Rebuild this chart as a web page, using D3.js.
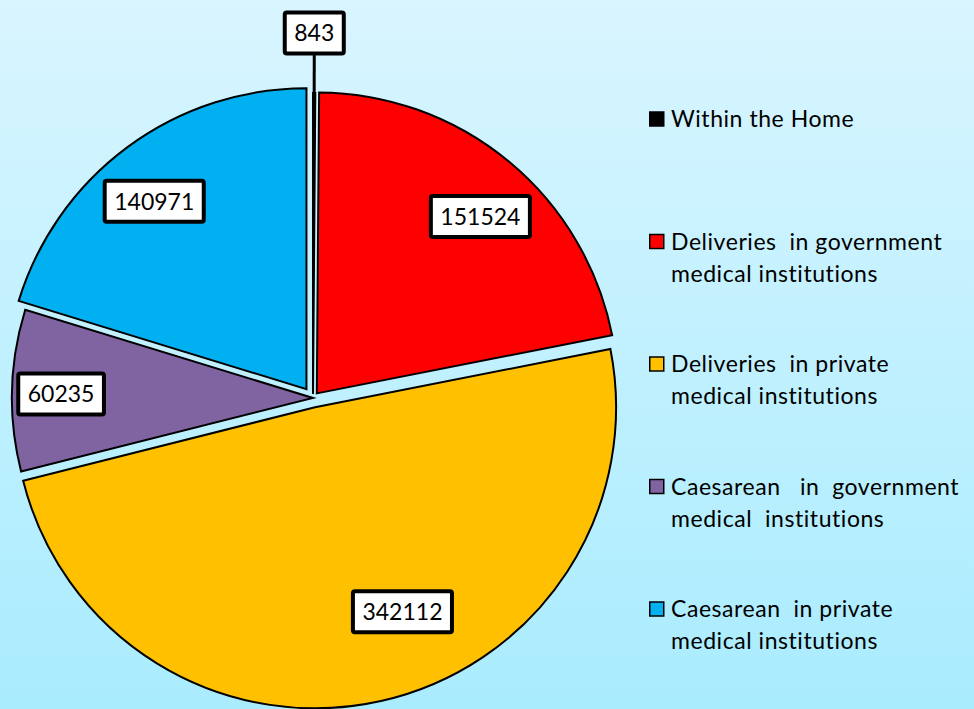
<!DOCTYPE html>
<html><head><meta charset="utf-8">
<script src="https://cdn.jsdelivr.net/npm/d3@7"></script>
<style>body{margin:0;} svg{display:block;} text{font-family:Lato, "Open Sans", sans-serif;font-variant-ligatures:none;}</style>
</head><body><svg id="c" width="974" height="709"></svg>
<script>
const categories = ["Within the Home","Deliveries in government medical institutions","Deliveries in private medical institutions","Caesarean in government medical institutions","Caesarean in private medical institutions"];
const legendLines = [["Within the Home"],["Deliveries  in government","medical institutions"],["Deliveries  in private","medical institutions"],["Caesarean   in  government","medical  institutions"],["Caesarean  in private","medical institutions"]];
const values = [843,151524,342112,60235,140971];
const colors = ["#000000","#ff0000","#ffc000","#8064a2","#00b0f0"];
const explode = [4,6,9.5,0,11];
const labelAngle = [0.2, 42.7, 157.3, 270.9, 321.1];
const labelDist = [1.213, 0.82, 0.77, 0.837, 0.84];

const W=974,H=709,cx=313,cy=398,R=301;
const svg=d3.select("#c");
const defs=svg.append("defs");
const g=defs.append("linearGradient").attr("id","bg").attr("x1",0).attr("y1",0).attr("x2",0).attr("y2",1);
g.append("stop").attr("offset","0%").attr("stop-color","#d9f5ff");
g.append("stop").attr("offset","100%").attr("stop-color","#a9ecfe");
svg.append("rect").attr("width",W).attr("height",H).attr("fill","url(#bg)");

const pie=d3.pie().sort(null).value(d=>d)(values);
const arc=d3.arc().innerRadius(0).outerRadius(R);
const root=svg.append("g").attr("transform",`translate(${cx},${cy})`);
const off=(d,i)=>{const m=(d.startAngle+d.endAngle)/2;return [explode[i]*Math.sin(m),-explode[i]*Math.cos(m)];};
root.selectAll("path.s").data(pie).join("path").attr("class","s")
  .attr("d",arc)
  .attr("transform",(d,i)=>{const o=off(d,i);return `translate(${o[0]},${o[1]})`;})
  .attr("fill",(d,i)=>colors[i]).attr("stroke","#000").attr("stroke-width",2).attr("stroke-linejoin","miter");

const labels=root.selectAll("g.lab").data(pie).join("g").attr("class","lab")
  .attr("transform",(d,i)=>{const a=labelAngle[i]*Math.PI/180;return `translate(${labelDist[i]*R*Math.sin(a)},${-labelDist[i]*R*Math.cos(a)})`;});
pie.forEach((d,i)=>{
  if(labelDist[i]>1){
    const a=labelAngle[i]*Math.PI/180;const o=off(d,i);
    const m=(d.startAngle+d.endAngle)/2;
    root.insert("line","g.lab").attr("x1",labelDist[i]*R*Math.sin(a)).attr("y1",-labelDist[i]*R*Math.cos(a)+20)
      .attr("x2",o[0]+R*Math.sin(m)).attr("y2",o[1]-R*Math.cos(m)+1).attr("stroke","#000").attr("stroke-width",3);
  }
});
labels.each(function(d,i){
  const el=d3.select(this);
  const rect=el.append("rect");
  const t=el.append("text").attr("text-anchor","middle").attr("dy","0.36em").attr("font-size",23).attr("fill","#000").text(values[i]);
  const w=t.node().getComputedTextLength();
  rect.attr("x",-(w+19)/2).attr("y",-20.5).attr("width",w+19).attr("height",41).attr("rx",2)
    .attr("fill","#fff").attr("stroke","#000").attr("stroke-width",4);
});

const ly=d3.scaleLinear().domain([0,4]).range([127,617]);
const leg=svg.append("g").selectAll("g").data(categories).join("g").attr("transform",(d,i)=>`translate(649,${ly(i)})`);
leg.append("rect").attr("x",0.75).attr("y",-15).attr("width",14).attr("height",14).attr("fill",(d,i)=>colors[i]).attr("stroke","#000").attr("stroke-width",1.5);
leg.each(function(d,i){
  const t=d3.select(this).append("text").attr("x",22).attr("font-size",23).attr("letter-spacing","0.55px").attr("fill","#000").style("white-space","pre");
  legendLines[i].forEach((s,j)=>t.append("tspan").attr("x",22).attr("y",j*32).text(s));
});
</script></body></html>
